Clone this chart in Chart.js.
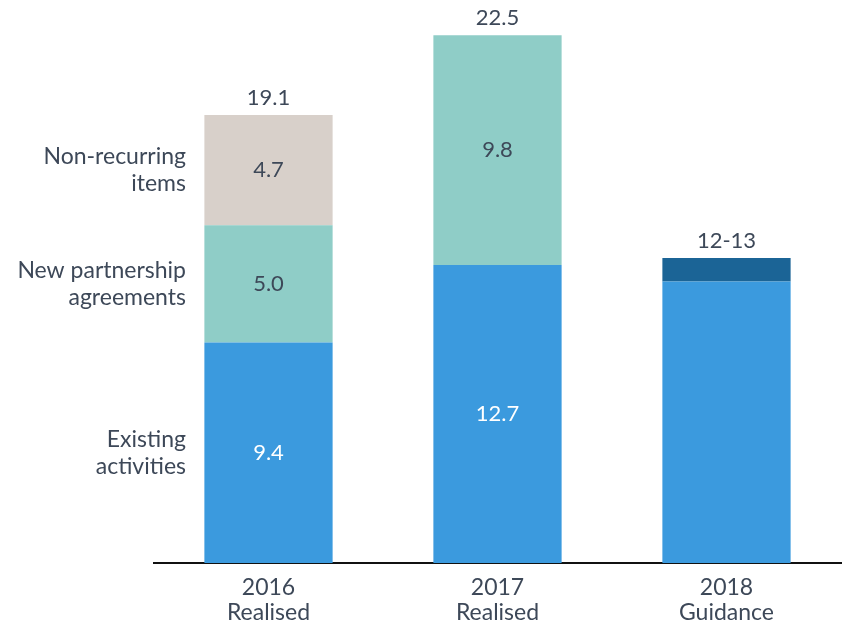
<!DOCTYPE html>
<html>
<head>
<meta charset="utf-8">
<script src="https://cdn.jsdelivr.net/npm/chart.js@4"></script>
<style>
  html, body { margin: 0; padding: 0; background: #fff; }
  #wrap { width: 842px; height: 624px; }
</style>
</head>
<body>
<div id="wrap"><canvas id="grafico"></canvas></div>
<script>
// categorias e valores de cada parcela
const anos = [['2016', 'Realised'], ['2017', 'Realised'], ['2018', 'Guidance']];
const atividadesExistentes = [9.4, 12.7, 12];
const novasParcerias = [5.0, 9.8, null];
const naoRecorrentes = [4.7, null, null];
const faixaGuidance = [null, null, 1];
const totais = ['19.1', '22.5', '12-13'];
const nomesSeries = [['Existing', 'activities'], ['New partnership', 'agreements'], ['Non-recurring', 'items']];

const corTexto = '#3d4858';
const fonte = 'Lato, "Noto Sans", sans-serif';

// escreve os valores dentro das barras, os totais e os nomes das séries à esquerda
const rotulosPlugin = {
    id: 'rotulos',
    afterDatasetsDraw(chart) {
        const ctx = chart.ctx;
        ctx.save();
        ctx.font = '22px ' + fonte;
        ctx.textAlign = 'center';
        ctx.textBaseline = 'middle';

        // valores internos (só as três primeiras séries)
        [0, 1, 2].forEach(i => {
            const meta = chart.getDatasetMeta(i);
            const valores = chart.data.datasets[i].data;
            meta.data.forEach((barra, j) => {
                const v = valores[j];
                if (v == null || j === 2) return;
                ctx.fillStyle = i === 0 ? '#ffffff' : corTexto;
                ctx.fillText(v.toFixed(1), barra.x, (barra.y + barra.base) / 2);
            });
        });

        // totais acima de cada pilha
        ctx.fillStyle = corTexto;
        anos.forEach((_, j) => {
            let topo = Infinity, x = 0;
            chart.data.datasets.forEach((ds, i) => {
                if (ds.data[j] == null) return;
                const barra = chart.getDatasetMeta(i).data[j];
                if (barra.y < topo) { topo = barra.y; x = barra.x; }
            });
            ctx.fillText(totais[j], x, topo - 17);
        });

        // nomes das séries alinhados ao meio de cada parcela de 2016
        ctx.font = '23px ' + fonte;
        ctx.textAlign = 'right';
        nomesSeries.forEach((linhas, i) => {
            const barra = chart.getDatasetMeta(i).data[0];
            const meio = (barra.y + barra.base) / 2;
            const inicio = meio - (linhas.length - 1) * 27 / 2;
            linhas.forEach((t, k) => ctx.fillText(t, 186, inicio + k * 27));
        });
        ctx.restore();
    }
};

new Chart(document.getElementById('grafico').getContext('2d'), {
    type: 'bar',
    data: {
        labels: anos,
        datasets: [
            { label: 'Existing activities', data: atividadesExistentes, backgroundColor: '#3b9ade' },
            { label: 'New partnership agreements', data: novasParcerias, backgroundColor: '#8fcdc7' },
            { label: 'Non-recurring items', data: naoRecorrentes, backgroundColor: '#d8d0ca' },
            { label: 'Guidance range', data: faixaGuidance, backgroundColor: '#1b6496' }
        ]
    },
    options: {
        responsive: true,
        maintainAspectRatio: false,
        animation: false,
        layout: { padding: { left: 154, right: 1, top: 0, bottom: 0 } },
        datasets: { bar: { categoryPercentage: 1, barPercentage: 0.56 } },
        plugins: {
            legend: { display: false },
            tooltip: { enabled: false }
        },
        scales: {
            x: {
                stacked: true,
                grid: { display: false, drawTicks: false },
                border: { display: true, color: '#111111', width: 2 },
                ticks: {
                    color: corTexto,
                    padding: 12,
                    font: { family: fonte, size: 23, lineHeight: 1.09 }
                },
                afterFit(scale) { scale.height = 61; }
            },
            y: {
                stacked: true,
                display: false,
                min: 0,
                max: 24
            }
        }
    },
    plugins: [rotulosPlugin]
});
</script>
</body>
</html>
